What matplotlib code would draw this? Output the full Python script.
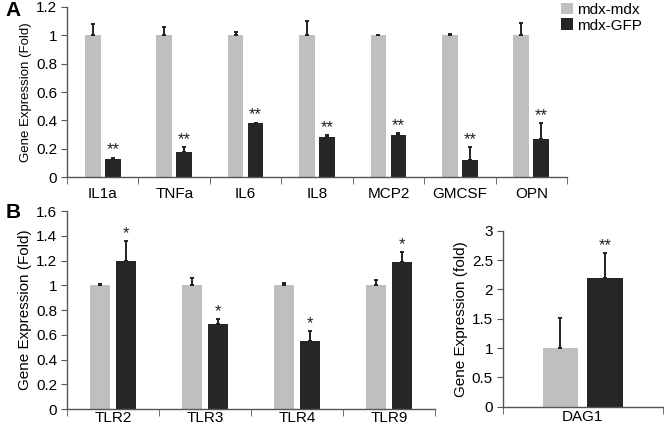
import numpy as np
import matplotlib
matplotlib.use("Agg")
import matplotlib.pyplot as plt

plt.rcParams['font.family'] = ['Liberation Sans', 'DejaVu Sans']

# Panel A data
genes_a = ["IL1a", "TNFa", "IL6", "IL8", "MCP2", "GMCSF", "OPN"]
mdx_a = [1, 1, 1, 1, 1, 1, 1]
mdx_a_err = [0.08, 0.06, 0.02, 0.10, 0.005, 0.01, 0.09]
gfp_a = [0.13, 0.18, 0.38, 0.28, 0.30, 0.12, 0.27]
gfp_a_err = [0.008, 0.03, 0.005, 0.015, 0.01, 0.09, 0.11]
stars_a = ["**"] * 7

# Panel B data (TLRs)
genes_b = ["TLR2", "TLR3", "TLR4", "TLR9"]
mdx_b = [1, 1, 1, 1]
mdx_b_err = [0.01, 0.06, 0.02, 0.045]
gfp_b = [1.2, 0.69, 0.55, 1.19]
gfp_b_err = [0.16, 0.04, 0.08, 0.08]
stars_b = ["*"] * 4

# Panel B data (DAG1)
genes_c = ["DAG1"]
mdx_c = [1.0]
mdx_c_err = [0.51]
gfp_c = [2.19]
gfp_c_err = [0.43]
stars_c = ["**"]

light = "#bfbfbf"
dark = "#262626"
axcol = "#555555"


def draw(ax, genes, g1, e1, g2, e2, stars, ymax, ystep, ylabel, xpad, ylsize):
    x = np.arange(len(genes))
    w = 0.22
    off = 0.14
    ekw = dict(ecolor="#222222", lw=1.4, capsize=1.2, capthick=1.4)
    ax.bar(x - off, g1, w, color=light, label="mdx-mdx",
           yerr=[np.zeros(len(e1)), e1], error_kw=ekw)
    ax.bar(x + off, g2, w, color=dark, label="mdx-GFP",
           yerr=[np.zeros(len(e2)), e2], error_kw=ekw)
    for xi, v, e, s in zip(x, g2, e2, stars):
        ax.text(xi + off, v + e, s, ha="center", va="bottom", fontsize=12, color="#222222")
    ax.set_xlim(-0.5, len(genes) - 0.5)
    ax.set_ylim(0, ymax)
    yt = np.arange(0, ymax + ystep / 2, ystep)
    ax.set_yticks(yt)
    ax.set_yticklabels([f"{v:g}" for v in yt])
    ax.set_xticks(x)
    ax.set_xticklabels(genes)
    ax.set_xticks(np.arange(-0.5, len(genes)), minor=True)
    ax.tick_params(axis="x", which="major", length=0, pad=xpad, labelsize=11)
    ax.tick_params(axis="x", which="minor", length=5, direction="out", color=axcol)
    ax.tick_params(axis="y", length=4, direction="out", color=axcol, labelsize=11, pad=3)
    for sp in ["top", "right"]:
        ax.spines[sp].set_visible(False)
    for sp in ["left", "bottom"]:
        ax.spines[sp].set_color(axcol)
        ax.spines[sp].set_linewidth(1.0)
    ax.set_ylabel(ylabel, fontsize=ylsize, labelpad=3)


fig = plt.figure(figsize=(6.64, 4.32), dpi=100)

ax1 = fig.add_axes([0.101, 0.590, 0.753, 0.394])
draw(ax1, genes_a, mdx_a, mdx_a_err, gfp_a, gfp_a_err, stars_a, 1.2, 0.2,
     "Gene Expression (Fold)", 7, 9.5)
ax1.legend(loc="upper left", bbox_to_anchor=(0.975, 1.06), frameon=False,
           fontsize=11, handlelength=0.8, handleheight=0.8, handletextpad=0.3,
           labelspacing=0.1, borderaxespad=0)

ax2 = fig.add_axes([0.101, 0.053, 0.554, 0.458])
draw(ax2, genes_b, mdx_b, mdx_b_err, gfp_b, gfp_b_err, stars_b, 1.6, 0.2,
     "Gene Expression (Fold)", 1.5, 11)

ax3 = fig.add_axes([0.757, 0.0586, 0.241, 0.407])
draw(ax3, genes_c, mdx_c, mdx_c_err, gfp_c, gfp_c_err, stars_c, 3.0, 0.5,
     "Gene Expression (fold)", 2.5, 11)

fig.text(0.008, 0.975, "A", fontsize=15, fontweight="bold", va="center")
fig.text(0.008, 0.508, "B", fontsize=15, fontweight="bold", va="center")

fig.savefig("out.png", dpi=100)
